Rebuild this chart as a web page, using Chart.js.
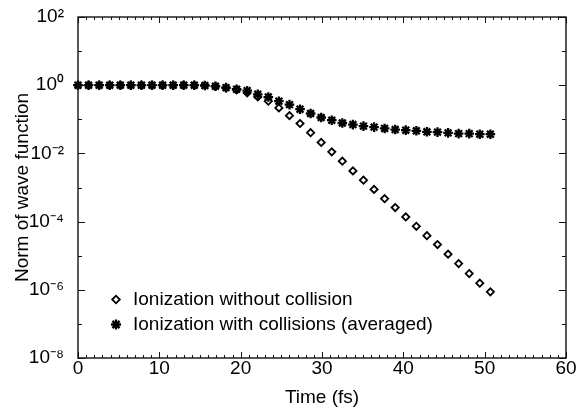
<!DOCTYPE html>
<html>
<head>
<meta charset="utf-8">
<script src="https://cdn.jsdelivr.net/npm/chart.js@4/dist/chart.umd.min.js"></script>
<style>
html,body{margin:0;padding:0;background:#fff;}
#wrap{width:586px;height:412px;position:relative;}
</style>
</head>
<body>
<div id="wrap"><canvas id="c" width="586" height="412"></canvas></div>
<script>
// ---- data ----
const timeFs = [0, 1.3, 2.6, 3.9, 5.2, 6.5, 7.8, 9.1, 10.4, 11.7,
  13.0, 14.3, 15.6, 16.9, 18.2, 19.5, 20.8, 22.1, 23.4, 24.7,
  26.0, 27.3, 28.6, 29.9, 31.2, 32.5, 33.8, 35.1, 36.4, 37.7,
  39.0, 40.3, 41.6, 42.9, 44.2, 45.5, 46.8, 48.1, 49.4, 50.7];

const normWithoutCollision = [1.0, 1.0, 1.0, 1.0, 1.0, 1.0, 1.0, 1.0, 1.0, 1.0,
  1.0, 1.0, 0.98, 0.93, 0.83, 0.73, 0.60, 0.454, 0.34, 0.216,
  0.128, 0.0753, 0.0405, 0.0209, 0.0111, 5.9e-3, 3.07e-3, 1.64e-3, 8.8e-4, 4.7e-4,
  2.59e-4, 1.37e-4, 7.3e-5, 3.86e-5, 2.13e-5, 1.11e-5, 5.9e-6, 3.0e-6, 1.56e-6, 8.7e-7];

const normWithCollisions = [1.0, 1.0, 1.0, 1.0, 1.0, 1.0, 1.0, 1.0, 1.0, 1.0,
  1.0, 1.0, 0.98, 0.93, 0.85, 0.76, 0.69, 0.54, 0.45, 0.34,
  0.27, 0.198, 0.148, 0.113, 0.094, 0.078, 0.070, 0.063, 0.059, 0.054,
  0.050, 0.048, 0.046, 0.043, 0.042, 0.040, 0.038, 0.038, 0.0366, 0.0366];

const seriesLabels = ['Ionization without collision', 'Ionization with collisions (averaged)'];

const xTickValues = [0, 10, 20, 30, 40, 50, 60];
const xTickLabels = ['0', '10', '20', '30', '40', '50', '60'];
const yTickValues = [1e-8, 1e-6, 1e-4, 1e-2, 1e0, 1e2];
const yTickLabels = ['10\u207B\u2078', '10\u207B\u2076', '10\u207B\u2074', '10\u207B\u00B2', '10\u2070', '10\u00B2'];
const xTitle = 'Time (fs)';
const yTitle = 'Norm of wave function';

// ---- chart ----
Chart.defaults.font.family = '"Liberation Sans", Arial, Helvetica, sans-serif';
Chart.defaults.color = '#000';

const toPoints = (xs, ys) => xs.map((x, i) => ({x: x, y: ys[i]}));

// frame with inward ticks on all four sides
const frameTicks = {
  id: 'frameTicks',
  afterDatasetsDraw(chart) {
    const {ctx, chartArea: a, scales} = chart;
    const x = scales.x, y = scales.y;
    ctx.save();
    ctx.strokeStyle = '#111';
    ctx.lineWidth = 1;
    ctx.beginPath();
    for (let t = x.min; t <= x.max + 1e-9; t += 1) {
      const px = Math.round(x.getPixelForValue(t)) + 0.5;
      const len = (Math.round(t) % 10 === 0) ? 6 : 3;
      ctx.moveTo(px, a.bottom); ctx.lineTo(px, a.bottom - len);
      ctx.moveTo(px, a.top); ctx.lineTo(px, a.top + len);
    }
    for (let e = -8; e <= 2; e++) {
      const py = Math.round(y.getPixelForValue(Math.pow(10, e))) + 0.5;
      const len = (e % 2 === 0) ? 7 : 4;
      ctx.moveTo(a.left, py); ctx.lineTo(a.left + len, py);
      ctx.moveTo(a.right, py); ctx.lineTo(a.right - len, py);
    }
    ctx.stroke();
    ctx.lineWidth = 1.4;
    ctx.strokeRect(a.left, a.top, a.right - a.left, a.bottom - a.top);
    ctx.restore();
  }
};

// legend drawn inside the plot area, lower left
const insetLegend = {
  id: 'insetLegend',
  afterDraw(chart, args, opts) {
    const {ctx, chartArea: a} = chart;
    ctx.save();
    ctx.font = opts.font;
    ctx.textBaseline = 'middle';
    ctx.textAlign = 'left';
    chart.data.datasets.forEach((ds, i) => {
      const cx = a.left + opts.offsetX;
      const cy = a.bottom + opts.offsetY + i * opts.rowGap;
      ctx.strokeStyle = ds.borderColor;
      ctx.fillStyle = 'rgba(0,0,0,0)';
      ctx.lineWidth = ds.pointBorderWidth;
      const pr = ds.pointRadius * (opts.markerScale || 1);
      if (Chart.helpers && Chart.helpers.drawPoint) {
        Chart.helpers.drawPoint(ctx, {pointStyle: ds.pointStyle, radius: pr, borderWidth: ds.pointBorderWidth, rotation: 0}, cx, cy);
      }
      ctx.fillStyle = '#000';
      ctx.fillText(ds.label, cx + opts.textGap, cy);
    });
    ctx.restore();
  }
};

new Chart(document.getElementById('c'), {
  type: 'scatter',
  data: {
    datasets: [
      {
        label: seriesLabels[0],
        data: toPoints(timeFs, normWithoutCollision),
        pointStyle: 'rectRot',
        pointRadius: 3.6,
        pointBorderWidth: 1.8,
        borderColor: '#000',
        backgroundColor: 'rgba(0,0,0,0)',
        showLine: false,
        clip: false
      },
      {
        label: seriesLabels[1],
        data: toPoints(timeFs, normWithCollisions),
        pointStyle: 'star',
        pointRadius: 4.8,
        pointBorderWidth: 2.3,
        borderColor: '#000',
        backgroundColor: '#000',
        showLine: false,
        clip: false
      }
    ]
  },
  options: {
    responsive: false,
    animation: false,
    events: [],
    layout: {padding: {top: 17, right: 20, bottom: 0, left: 0}},
    plugins: {
      legend: {display: false},
      tooltip: {enabled: false},
      insetLegend: {
        font: '19px "Liberation Sans", Arial, Helvetica, sans-serif',
        offsetX: 38, offsetY: -58.5, rowGap: 25, textGap: 17, markerScale: 1.05
      }
    },
    scales: {
      x: {
        type: 'linear',
        min: 0, max: 60,
        grid: {display: false, drawTicks: false},
        border: {display: false},
        afterBuildTicks: s => { s.ticks = xTickValues.map(v => ({value: v})); },
        ticks: {
          autoSkip: false, maxRotation: 0, padding: 1,
          font: {size: 19, lineHeight: 1},
          callback: (v, i) => xTickLabels[i]
        },
        title: {display: true, text: xTitle, font: {size: 19, lineHeight: 1.2}, padding: {top: 0, bottom: 3}},
        afterFit: s => { s.height = 54; s.paddingLeft = 0; s.paddingRight = 0; }
      },
      y: {
        type: 'logarithmic',
        min: 1e-8, max: 1e2,
        grid: {display: false, drawTicks: false},
        border: {display: false},
        afterBuildTicks: s => { s.ticks = yTickValues.map(v => ({value: v})); },
        ticks: {
          autoSkip: false, padding: 14,
          font: {size: 19, lineHeight: 1},
          callback: (v, i) => yTickLabels[i]
        },
        title: {display: true, text: yTitle, font: {size: 19, lineHeight: 1.2}, padding: {top: 11, bottom: 0}},
        afterFit: s => { s.width = 78; s.paddingTop = 0; s.paddingBottom = 0; }
      }
    }
  },
  plugins: [frameTicks, insetLegend]
});
</script>
</body>
</html>
